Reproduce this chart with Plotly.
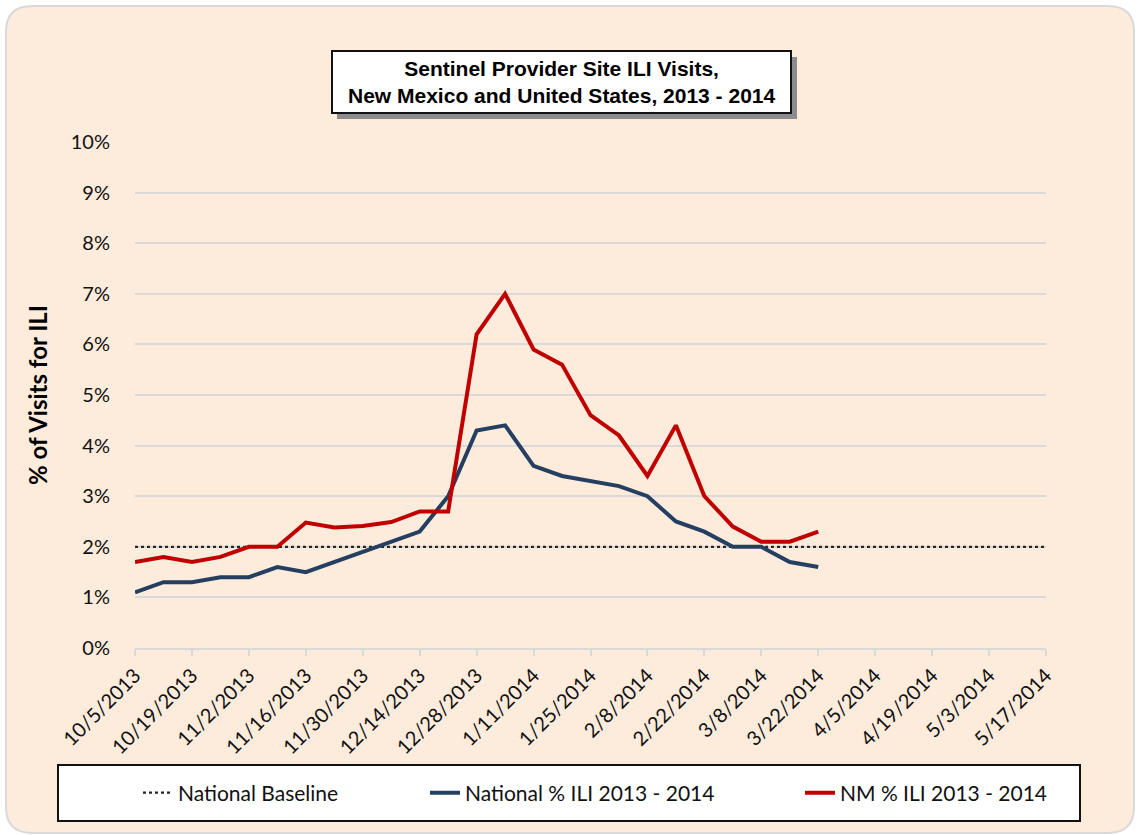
import plotly.graph_objects as go
import pandas as pd

# ---- data ----
week_dates = list(pd.date_range("2013-10-05", periods=25, freq="7D"))
season_dates = list(pd.date_range("2013-10-05", periods=33, freq="7D"))
national_ili = [1.1, 1.3, 1.3, 1.4, 1.4, 1.6, 1.5, 1.7, 1.9, 2.1, 2.3, 3.0, 4.3, 4.4,
                3.6, 3.4, 3.3, 3.2, 3.0, 2.5, 2.3, 2.0, 2.0, 1.7, 1.6]
nm_ili = [1.7, 1.8, 1.7, 1.8, 2.0, 2.0, 2.48, 2.38, 2.41, 2.49, 2.7, 2.7, 6.2, 7.0,
          5.9, 5.6, 4.6, 4.2, 3.4, 4.4, 3.0, 2.4, 2.1, 2.1, 2.3]
baseline = [2.0] * 33
tick_labels = ["10/5/2013", "10/19/2013", "11/2/2013", "11/16/2013", "11/30/2013",
               "12/14/2013", "12/28/2013", "1/11/2014", "1/25/2014", "2/8/2014",
               "2/22/2014", "3/8/2014", "3/22/2014", "4/5/2014", "4/19/2014",
               "5/3/2014", "5/17/2014"]
tick_dates = season_dates[::2]

W, H = 1137, 835
L, R, T, B = 135, 1046, 142, 648
PW, PH = R - L, B - T


def px(x):
    return (x - L) / PW


def py(y):
    return (B - y) / PH


fig = go.Figure()
fig.add_trace(go.Scatter(x=season_dates, y=[v / 100 for v in baseline], mode="lines",
                         name="National Baseline", line=dict(color="#262626", width=2.2, dash="dot"),
                         legend="legend", hoverinfo="skip"))
fig.add_trace(go.Scatter(x=week_dates, y=[v / 100 for v in national_ili], mode="lines",
                         name="National % ILI 2013 - 2014", line=dict(color="#243F60", width=4),
                         legend="legend2"))
fig.add_trace(go.Scatter(x=week_dates, y=[v / 100 for v in nm_ili], mode="lines",
                         name="NM % ILI 2013 - 2014", line=dict(color="#C00000", width=4),
                         legend="legend3"))

tick_font = dict(family="Lato, Calibri, sans-serif", size=20, color="#111111")

# outer rounded panel
x0, x1, y0, y1, r = 6, 1134, 6, 833, 26
path = (f"M {px(x0 + r)},{py(y0)} L {px(x1 - r)},{py(y0)} Q {px(x1)},{py(y0)} {px(x1)},{py(y0 + r)} "
        f"L {px(x1)},{py(y1 - r)} Q {px(x1)},{py(y1)} {px(x1 - r)},{py(y1)} "
        f"L {px(x0 + r)},{py(y1)} Q {px(x0)},{py(y1)} {px(x0)},{py(y1 - r)} "
        f"L {px(x0)},{py(y0 + r)} Q {px(x0)},{py(y0)} {px(x0 + r)},{py(y0)} Z")
shapes = [
    dict(type="path", path=path, xref="paper", yref="paper", fillcolor="#FDEBDC",
         line=dict(color="#D9D9D9", width=2), layer="below"),
    # title shadow
    dict(type="rect", xref="paper", yref="paper", x0=px(337), x1=px(797), y0=py(119), y1=py(57),
         fillcolor="#8C8C8C", line=dict(width=0), layer="below"),
    # title box
    dict(type="rect", xref="paper", yref="paper", x0=px(332), x1=px(791), y0=py(113), y1=py(51),
         fillcolor="white", line=dict(color="#111111", width=2), layer="below"),
    # legend box
    dict(type="rect", xref="paper", yref="paper", x0=px(58), x1=px(1080), y0=py(821), y1=py(765),
         fillcolor="white", line=dict(color="#111111", width=2), layer="below"),
]

leg_common = dict(orientation="h", bgcolor="rgba(0,0,0,0)", borderwidth=0,
                  font=dict(family="Lato, Calibri, sans-serif", size=21, color="#111111"),
                  xref="container", yref="container", xanchor="left", yanchor="middle")

fig.update_layout(
    width=W, height=H,
    margin=dict(l=L, r=W - R, t=T, b=H - B),
    paper_bgcolor="white", plot_bgcolor="white",
    showlegend=True,
    legend=dict(x=(138) / W, y=1 - 793 / H, **leg_common),
    legend2=dict(x=(425) / W, y=1 - 793 / H, **leg_common),
    legend3=dict(x=(800) / W, y=1 - 793 / H, **leg_common),
    shapes=shapes,
    annotations=[dict(text="<b>Sentinel Provider Site ILI Visits,<br>New Mexico and United States, 2013 - 2014</b>",
                      xref="paper", yref="paper", x=px(561), y=py(82), showarrow=False,
                      xanchor="center", yanchor="middle",
                      font=dict(family="Liberation Sans, Arial, sans-serif", size=21, color="black"),
                      align="center")],
    xaxis=dict(range=[season_dates[0], season_dates[-1]], tickvals=tick_dates, ticktext=tick_labels,
               tickangle=-45, tickfont=tick_font, showgrid=False, zeroline=False,
               showline=True, linecolor="#D9D9D9", linewidth=2,
               ticks="outside", ticklen=6, tickcolor="#D9D9D9", tickwidth=2),
    yaxis=dict(range=[0, 0.10], dtick=0.01, tickformat=".0%", tickfont=tick_font,
               gridcolor="#D9D9D9", gridwidth=1.5, zeroline=False, showline=False,
               ticks="", ticklabelstandoff=24,
               title=dict(text="<b>% of Visits for ILI</b>", standoff=16,
                          font=dict(family="Lato, Calibri, sans-serif", size=24, color="black"))),
)

fig.write_html("out.html", config={"displayModeBar": False},
               post_script="document.body.style.margin='0';")
